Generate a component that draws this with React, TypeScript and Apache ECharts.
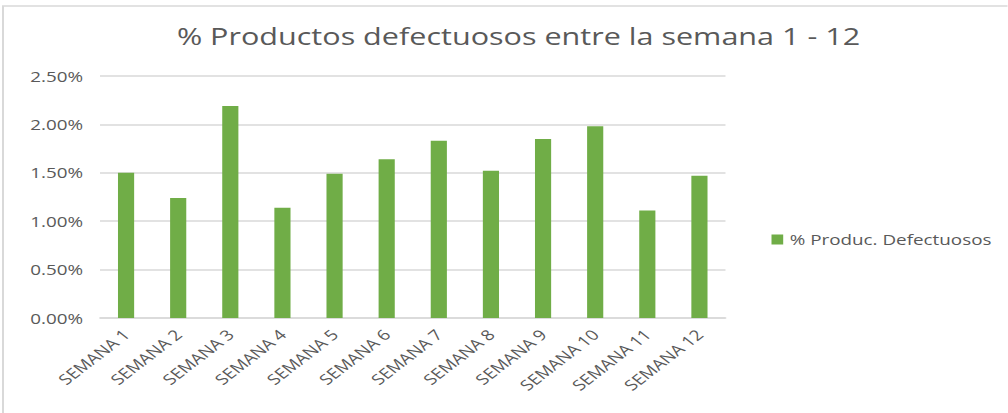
import React, { useEffect, useRef } from "react";
import * as echarts from "echarts";

const categories = [
  "SEMANA 1", "SEMANA 2", "SEMANA 3", "SEMANA 4", "SEMANA 5", "SEMANA 6",
  "SEMANA 7", "SEMANA 8", "SEMANA 9", "SEMANA 10", "SEMANA 11", "SEMANA 12",
];
const defectPct = [1.5, 1.24, 2.19, 1.14, 1.49, 1.64, 1.83, 1.52, 1.85, 1.98, 1.11, 1.47];
const yTicks = [0, 0.5, 1, 1.5, 2, 2.5];
const seriesName = "% Produc. Defectuosos";
const title = "% Productos defectuosos entre la semana 1 - 12";

const FONT = "'Open Sans', 'Noto Sans', sans-serif";
const GREY = "#595959";
const S = 1.3; // horizontal stretch of the reference picture
const W = 1008 / S;
const H = 413;
const px = (x: number) => x / S;

export default function App() {
  const ref = useRef<HTMLDivElement>(null);
  useEffect(() => {
    if (!ref.current) return;
    const chart = echarts.init(ref.current, undefined, { renderer: "svg" });
    chart.setOption({
      animation: false,
      backgroundColor: "#ffffff",
      title: {
        text: title,
        left: px(512),
        textAlign: "center",
        top: 19,
        textStyle: { fontFamily: FONT, fontSize: 23.5, fontWeight: "normal", color: GREY },
      },
      legend: {
        data: [seriesName],
        left: px(765),
        top: 227,
        icon: "rect",
        itemWidth: 9,
        itemHeight: 10,
        itemGap: 4,
        textStyle: { fontFamily: FONT, fontSize: 14.5, color: GREY },
      },
      grid: { left: px(100), right: px(282), top: 76, bottom: 95 },
      xAxis: {
        type: "category",
        data: categories,
        axisLine: { lineStyle: { color: "#d9d9d9", width: 1.5 } },
        axisTick: { show: false },
        axisLabel: {
          rotate: 45,
          interval: 0,
          margin: 14,
          fontFamily: FONT,
          fontSize: 14.5,
          color: GREY,
        },
      },
      yAxis: {
        type: "value",
        min: yTicks[0],
        max: yTicks[yTicks.length - 1],
        interval: yTicks[1] - yTicks[0],
        axisLine: { show: false },
        axisTick: { show: false },
        splitLine: { lineStyle: { color: "#d9d9d9", width: 1.5 } },
        axisLabel: {
          margin: px(17),
          fontFamily: FONT,
          fontSize: 14.5,
          color: GREY,
          formatter: (v: number) => v.toFixed(2) + "%",
        },
      },
      series: [
        {
          name: seriesName,
          type: "bar",
          data: defectPct,
          barWidth: "31%",
          itemStyle: { color: "#70ad47" },
        },
      ],
      graphic: [
        {
          type: "rect",
          shape: { x: px(3), y: 6, width: W + 10, height: H + 10 },
          style: { fill: "none", stroke: "#d9d9d9", lineWidth: 1.5 },
          silent: true,
        },
      ],
    });
    return () => chart.dispose();
  }, []);
  return (
    <div
      style={{ position: "fixed", left: 0, top: 0, width: 1008, height: H, overflow: "hidden", background: "#fff" }}
    >
      <div
        ref={ref}
        style={{ width: W, height: H, transform: `scaleX(${S})`, transformOrigin: "0 0" }}
      />
    </div>
  );
}
